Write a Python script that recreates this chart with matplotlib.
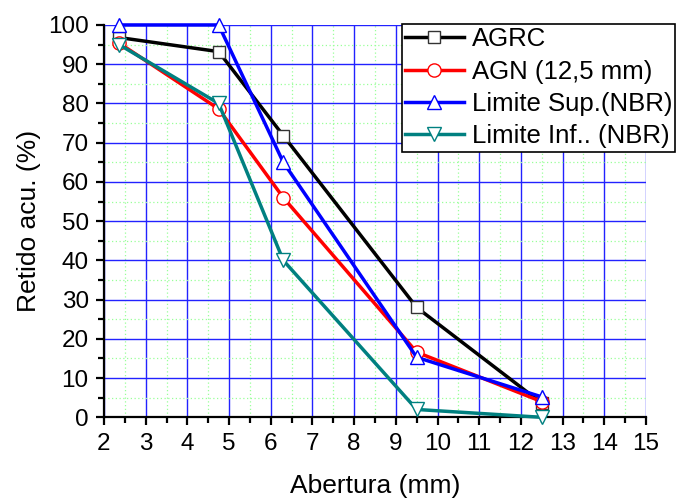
import matplotlib
matplotlib.use("Agg")
import matplotlib.pyplot as plt
from matplotlib.ticker import MultipleLocator

plt.rcParams['font.family'] = ['Liberation Sans', 'DejaVu Sans']

abertura = [2.36, 4.75, 6.3, 9.5, 12.5]
agrc = [96.8, 93.2, 71.8, 28.0, 3.6]
agn = [95.4, 78.6, 56.0, 16.6, 4.0]
lim_sup = [100, 100, 65.0, 15.3, 5.2]
lim_inf = [95.0, 80.0, 40.0, 2.0, 0.0]

labels = ["AGRC", "AGN (12,5 mm)", "Limite Sup.(NBR)", "Limite Inf.. (NBR)"]
colors = ["black", "red", "blue", "#008080"]
markers = ["s", "o", "^", "v"]
msizes = [8.5, 9.5, 10.5, 10.5]
edgecolors = ["#333333", "red", "blue", "#008080"]

fig = plt.figure(figsize=(6.81, 4.99), dpi=100)
ax = fig.add_axes([0.1527, 0.1637, 0.7959, 0.7863])

for ys, lab, c, m, ms, ec in zip([agrc, agn, lim_sup, lim_inf], labels, colors, markers, msizes, edgecolors):
    ax.plot(abertura, ys, color=c, lw=2.5, marker=m, markersize=ms,
            markerfacecolor="white", markeredgecolor=ec, markeredgewidth=1.0,
            label=lab, clip_on=False, zorder=3)

ax.set_xlim(2, 15)
ax.set_ylim(0, 100)
ax.xaxis.set_major_locator(MultipleLocator(1))
ax.xaxis.set_minor_locator(MultipleLocator(0.5))
ax.yaxis.set_major_locator(MultipleLocator(10))
ax.yaxis.set_minor_locator(MultipleLocator(5))

ax.grid(which="major", color="#2222ff", lw=1.0, zorder=0)
ax.grid(which="minor", color="#99ff99", lw=0.9, ls=(0, (1, 2)), zorder=0)
ax.set_axisbelow(True)

for s in ["top", "right"]:
    ax.spines[s].set_visible(False)
for s in ["left", "bottom"]:
    ax.spines[s].set_linewidth(1.6)

ax.tick_params(which="major", direction="out", length=6, width=1.6, labelsize=17.5, pad=5)
ax.tick_params(which="minor", direction="out", length=4, width=1.6)

ax.set_xlabel("Abertura (mm)", fontsize=19, labelpad=14)
ax.set_ylabel("Retido acu. (%)", fontsize=19, labelpad=5)

leg = fig.legend(loc="upper left", bbox_to_anchor=(0.590, 0.952), fontsize=18.5,
                 frameon=True, fancybox=False, edgecolor="black", framealpha=1,
                 handlelength=2.3, labelspacing=0.33, borderpad=0.12,
                 handletextpad=0.3, borderaxespad=0)
leg.get_frame().set_linewidth(1.2)

fig.savefig("out.png", dpi=100)
